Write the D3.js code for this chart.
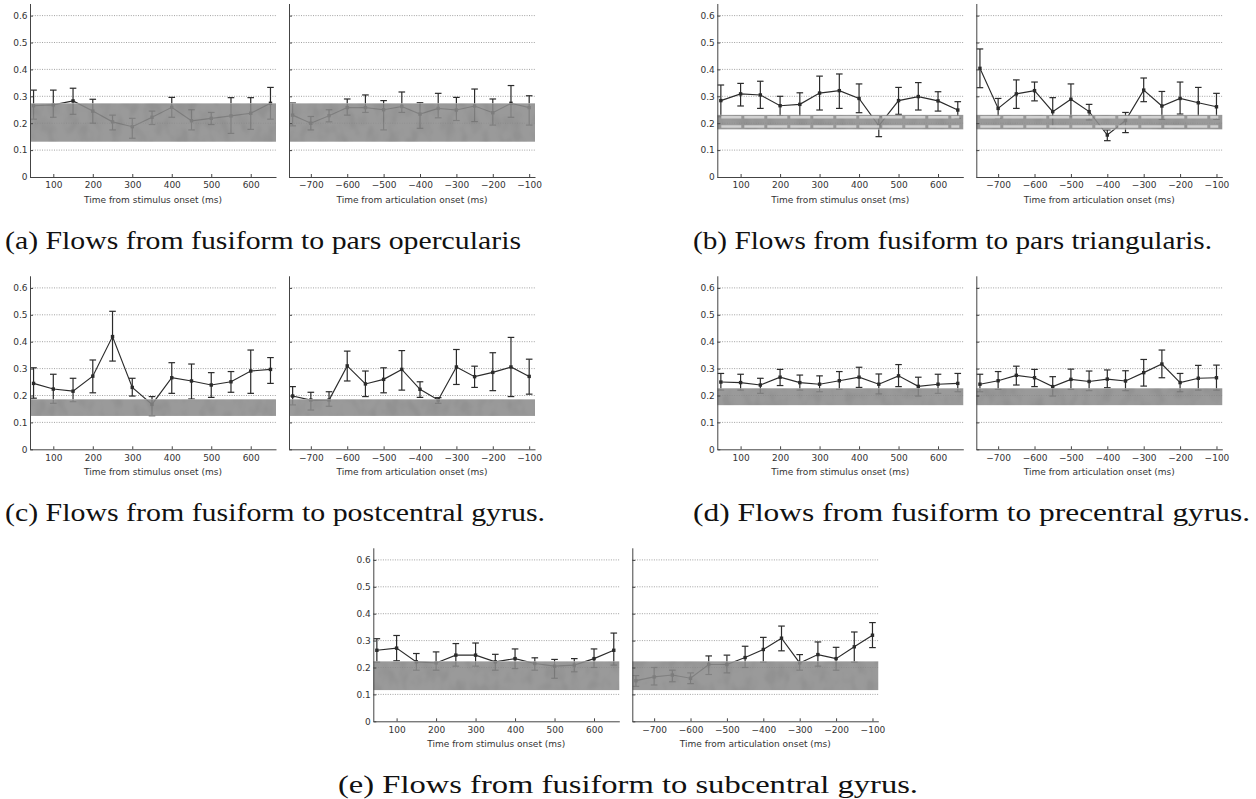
<!DOCTYPE html>
<html>
<head>
<meta charset="utf-8">
<script src="https://cdn.jsdelivr.net/npm/d3@7"></script>
<style>
  html, body { margin: 0; padding: 0; background: #fff; }
  svg { display: block; }
  .tick text { font-family: "DejaVu Sans", sans-serif; font-size: 9px; fill: #333; }
  .caption { font-family: "Liberation Serif", "Times New Roman", serif; font-size: 25px; fill: #111; }
</style>
</head>
<body>
<svg id="fig" width="1256" height="799"></svg>
<script>
// Time points (ms)
const stimTimes = [50, 100, 150, 200, 250, 300, 350, 400, 450, 500, 550, 600, 650];
const artTimes = [-750, -700, -650, -600, -550, -500, -450, -400, -350, -300, -250, -200, -150, -100];

// Tick values
const yTicks = [0, 0.1, 0.2, 0.3, 0.4, 0.5, 0.6];
const stimTicks = [100, 200, 300, 400, 500, 600];
const artTicks = [-700, -600, -500, -400, -300, -200, -100];

// (a) fusiform -> pars opercularis
const aStimMean = [0.265, 0.268, 0.283, 0.245, 0.205, 0.187, 0.222, 0.259, 0.209, 0.218, 0.227, 0.237, 0.274];
const aStimHi   = [0.323, 0.323, 0.330, 0.289, 0.230, 0.218, 0.245, 0.296, 0.250, 0.240, 0.295, 0.295, 0.333];
const aStimLo   = [0.215, 0.222, 0.233, 0.200, 0.175, 0.144, 0.195, 0.222, 0.175, 0.195, 0.162, 0.177, 0.215];
const aArtMean  = [0.230, 0.200, 0.228, 0.258, 0.258, 0.250, 0.262, 0.234, 0.255, 0.249, 0.264, 0.239, 0.274, 0.258];
const aArtHi    = [0.275, 0.225, 0.250, 0.290, 0.305, 0.284, 0.316, 0.276, 0.311, 0.296, 0.327, 0.290, 0.340, 0.302];
const aArtLo    = [0.190, 0.175, 0.205, 0.230, 0.240, 0.175, 0.240, 0.181, 0.220, 0.210, 0.206, 0.193, 0.222, 0.193];
const bandA = [0.131, 0.274];

// (b) fusiform -> pars triangularis
const bStimMean = [0.284, 0.309, 0.305, 0.265, 0.270, 0.312, 0.321, 0.292, 0.190, 0.284, 0.299, 0.283, 0.249];
const bStimHi   = [0.342, 0.348, 0.356, 0.300, 0.313, 0.375, 0.383, 0.346, 0.224, 0.333, 0.351, 0.317, 0.280];
const bStimLo   = [0.224, 0.264, 0.255, 0.227, 0.224, 0.249, 0.255, 0.239, 0.150, 0.233, 0.249, 0.245, 0.218];
const bArtMean  = [0.404, 0.255, 0.309, 0.321, 0.243, 0.289, 0.243, 0.156, 0.210, 0.323, 0.264, 0.292, 0.276, 0.261];
const bArtHi    = [0.476, 0.292, 0.361, 0.353, 0.295, 0.346, 0.270, 0.175, 0.240, 0.368, 0.318, 0.353, 0.333, 0.311];
const bArtLo    = [0.332, 0.218, 0.255, 0.283, 0.187, 0.224, 0.212, 0.135, 0.165, 0.280, 0.214, 0.234, 0.224, 0.214];
const bandB = [0.177, 0.231];
const bandStripesB = [0.188, 0.222];

// (c) fusiform -> postcentral gyrus
const cStimMean = [0.245, 0.224, 0.216, 0.272, 0.419, 0.230, 0.167, 0.266, 0.254, 0.239, 0.251, 0.291, 0.297];
const cStimHi   = [0.303, 0.279, 0.264, 0.332, 0.513, 0.264, 0.196, 0.322, 0.317, 0.285, 0.289, 0.369, 0.341];
const cStimLo   = [0.190, 0.171, 0.177, 0.210, 0.328, 0.198, 0.125, 0.208, 0.187, 0.193, 0.212, 0.208, 0.245];
const cArtMean  = [0.198, 0.183, 0.183, 0.310, 0.243, 0.260, 0.297, 0.223, 0.183, 0.306, 0.270, 0.286, 0.306, 0.271];
const cArtHi    = [0.233, 0.212, 0.214, 0.365, 0.291, 0.303, 0.367, 0.251, 0.192, 0.371, 0.309, 0.359, 0.416, 0.335];
const cArtLo    = [0.165, 0.146, 0.160, 0.254, 0.196, 0.210, 0.220, 0.193, 0.171, 0.241, 0.230, 0.218, 0.196, 0.205];
const bandC = [0.124, 0.186];

// (d) fusiform -> precentral gyrus
const dStimMean = [0.250, 0.248, 0.239, 0.268, 0.248, 0.242, 0.255, 0.268, 0.242, 0.273, 0.234, 0.242, 0.245];
const dStimHi   = [0.282, 0.279, 0.264, 0.297, 0.276, 0.273, 0.289, 0.305, 0.280, 0.315, 0.268, 0.279, 0.282];
const dStimLo   = [0.220, 0.220, 0.208, 0.237, 0.220, 0.214, 0.223, 0.230, 0.206, 0.233, 0.198, 0.208, 0.214];
const dArtMean  = [0.242, 0.255, 0.275, 0.266, 0.233, 0.260, 0.252, 0.261, 0.254, 0.285, 0.317, 0.248, 0.264, 0.266];
const dArtHi    = [0.279, 0.289, 0.309, 0.297, 0.270, 0.298, 0.291, 0.295, 0.292, 0.334, 0.369, 0.282, 0.312, 0.313];
const dArtLo    = [0.214, 0.223, 0.239, 0.233, 0.198, 0.223, 0.218, 0.229, 0.218, 0.235, 0.266, 0.214, 0.220, 0.220];
const bandD = [0.164, 0.227];

// (e) fusiform -> subcentral gyrus
const eStimMean = [0.264, 0.272, 0.221, 0.217, 0.246, 0.246, 0.221, 0.233, 0.215, 0.205, 0.209, 0.233, 0.264];
const eStimHi   = [0.307, 0.319, 0.252, 0.258, 0.289, 0.291, 0.249, 0.269, 0.236, 0.230, 0.233, 0.269, 0.328];
const eStimLo   = [0.220, 0.225, 0.190, 0.190, 0.205, 0.205, 0.190, 0.196, 0.190, 0.160, 0.184, 0.200, 0.209];
const eArtMean  = [0.151, 0.165, 0.172, 0.160, 0.211, 0.211, 0.237, 0.267, 0.309, 0.217, 0.248, 0.233, 0.277, 0.320];
const eArtHi    = [0.170, 0.200, 0.190, 0.180, 0.243, 0.246, 0.279, 0.312, 0.354, 0.248, 0.295, 0.275, 0.332, 0.367];
const eArtLo    = [0.130, 0.135, 0.147, 0.140, 0.174, 0.180, 0.200, 0.220, 0.262, 0.190, 0.205, 0.190, 0.220, 0.274];
const bandE = [0.116, 0.223];

const captions = [
  "(a) Flows from fusiform to pars opercularis",
  "(b) Flows from fusiform to pars triangularis.",
  "(c) Flows from fusiform to postcentral gyrus.",
  "(d) Flows from fusiform to precentral gyrus.",
  "(e) Flows from fusiform to subcentral gyrus."
];
const stimLabel = "Time from stimulus onset (ms)";
const artLabel = "Time from articulation onset (ms)";

// ---- layout ----
const svg = d3.select("#fig");
const panelW = 246;
const pxPerUnit = 269;
const yMax = 0.645;
const pairGap = 259;           // left axis -> right axis of a pair
const stimDomain = [41, 664];
const artDomain = [-760, -84];

const figures = [
  { left: 30,    base: 177,   band: bandA, stripes: null,
    stim: [aStimMean, aStimHi, aStimLo], art: [aArtMean, aArtHi, aArtLo],
    cap: captions[0], capX: 5,   capW: 516 },
  { left: 717.3, base: 177,   band: bandB, stripes: bandStripesB,
    stim: [bStimMean, bStimHi, bStimLo], art: [bArtMean, bArtHi, bArtLo],
    cap: captions[1], capX: 693, capW: 519 },
  { left: 30,    base: 449.3, band: bandC, stripes: null,
    stim: [cStimMean, cStimHi, cStimLo], art: [cArtMean, cArtHi, cArtLo],
    cap: captions[2], capX: 5,   capW: 540 },
  { left: 717.3, base: 449.3, band: bandD, stripes: null,
    stim: [dStimMean, dStimHi, dStimLo], art: [dArtMean, dArtHi, dArtLo],
    cap: captions[3], capX: 693, capW: 557 },
  { left: 373.3, base: 721.3, band: bandE, stripes: null,
    stim: [eStimMean, eStimHi, eStimLo], art: [eArtMean, eArtHi, eArtLo],
    cap: captions[4], capX: 338, capW: 580 }
];

// grainy texture for the null-distribution band
const defs = svg.append("defs");
const grain = defs.append("filter").attr("id", "grain")
  .attr("x", 0).attr("y", 0).attr("width", 1).attr("height", 1);
grain.append("feTurbulence").attr("type", "fractalNoise")
  .attr("baseFrequency", "0.09 0.06").attr("numOctaves", 2).attr("seed", 7).attr("result", "noise");
grain.append("feColorMatrix").attr("in", "noise").attr("type", "matrix")
  .attr("values", "0.35 0 0 0 0.78  0.35 0 0 0 0.78  0.35 0 0 0 0.78  0 0 0 0 1").attr("result", "tone");
grain.append("feComposite").attr("in", "tone").attr("in2", "SourceGraphic").attr("operator", "in").attr("result", "toneClip");
grain.append("feBlend").attr("in", "SourceGraphic").attr("in2", "toneClip").attr("mode", "multiply");

const ink = "#2b2b2b";

function drawPanel(x0, base, domain, times, series, ticks, showYLabels, band, stripes, title) {
  const [mean, hi, lo] = series;
  const x = d3.scaleLinear().domain(domain).range([x0, x0 + panelW]);
  const y = d3.scaleLinear().domain([0, yMax]).range([base, base - yMax * pxPerUnit]);
  const g = svg.append("g");

  // dotted horizontal grid
  g.selectAll(".grid").data(yTicks.filter(v => v > 0)).join("line")
    .attr("x1", x0).attr("x2", x0 + panelW)
    .attr("y1", d => y(d)).attr("y2", d => y(d))
    .attr("stroke", "#8a8a8a").attr("stroke-width", 0.8).attr("stroke-dasharray", "1,1.4");

  // mean line
  const pts = times.map((t, i) => [t, mean[i], hi[i], lo[i]]);
  g.append("path").datum(pts)
    .attr("fill", "none").attr("stroke", ink).attr("stroke-width", 1.15)
    .attr("d", d3.line().x(d => x(d[0])).y(d => y(d[1])));

  // error bars
  const eb = g.selectAll(".eb").data(pts).join("g");
  eb.append("line").attr("x1", d => x(d[0])).attr("x2", d => x(d[0]))
    .attr("y1", d => y(d[2])).attr("y2", d => y(d[3]))
    .attr("stroke", ink).attr("stroke-width", 1.2);
  eb.append("line").attr("x1", d => x(d[0]) - 3.3).attr("x2", d => x(d[0]) + 3.3)
    .attr("y1", d => y(d[2])).attr("y2", d => y(d[2]))
    .attr("stroke", ink).attr("stroke-width", 1.2);
  eb.append("line").attr("x1", d => x(d[0]) - 3.3).attr("x2", d => x(d[0]) + 3.3)
    .attr("y1", d => y(d[3])).attr("y2", d => y(d[3]))
    .attr("stroke", ink).attr("stroke-width", 1.2);
  eb.append("rect").attr("x", d => x(d[0]) - 1.7).attr("y", d => y(d[1]) - 1.7)
    .attr("width", 3.4).attr("height", 3.4).attr("fill", ink);

  // shaded band, laid over the curves
  g.append("rect")
    .attr("x", x0).attr("width", panelW)
    .attr("y", y(band[1])).attr("height", y(band[0]) - y(band[1]))
    .attr("fill", "#8d8d8d").attr("opacity", 0.88).attr("filter", "url(#grain)");
  if (stripes) {
    g.selectAll(".stripe").data(stripes).join("line")
      .attr("x1", x0 + 4).attr("x2", x0 + panelW - 4)
      .attr("y1", d => y(d)).attr("y2", d => y(d))
      .attr("stroke", "#d8d8d8").attr("stroke-width", 2.4).attr("stroke-dasharray", "20,3")
      .attr("opacity", 0.9);
  }

  // axes
  const xAxis = d3.axisBottom(x).tickValues(ticks).tickSizeInner(-3).tickSizeOuter(0).tickPadding(5)
    .tickFormat(d3.format("d"));
  const ax = g.append("g").attr("transform", `translate(0,${base})`).call(xAxis);
  ax.select(".domain").attr("stroke", "#444");
  ax.selectAll(".tick line").attr("stroke", "#444");

  const yAxis = d3.axisLeft(y).tickValues(yTicks).tickSizeInner(-3).tickSizeOuter(0).tickPadding(2.5)
    .tickFormat(showYLabels ? d3.format("") : () => "");
  const ay = g.append("g").attr("transform", `translate(${x0},0)`).call(yAxis);
  ay.select(".domain").attr("stroke", "#444");
  ay.selectAll(".tick line").attr("stroke", "#444");

  g.append("text").attr("x", x0 + panelW / 2).attr("y", base + 26)
    .attr("text-anchor", "middle")
    .attr("font-family", "DejaVu Sans, sans-serif").attr("font-size", 9).attr("fill", "#333")
    .text(title);
}

figures.forEach(f => {
  drawPanel(f.left, f.base, stimDomain, stimTimes, f.stim, stimTicks, true, f.band, f.stripes, stimLabel);
  drawPanel(f.left + pairGap, f.base, artDomain, artTimes, f.art, artTicks, false, f.band, f.stripes, artLabel);
  svg.append("text").attr("class", "caption")
    .attr("x", f.capX).attr("y", f.base + 72)
    .attr("textLength", f.capW).attr("lengthAdjust", "spacingAndGlyphs")
    .text(f.cap);
});
</script>
</body>
</html>
